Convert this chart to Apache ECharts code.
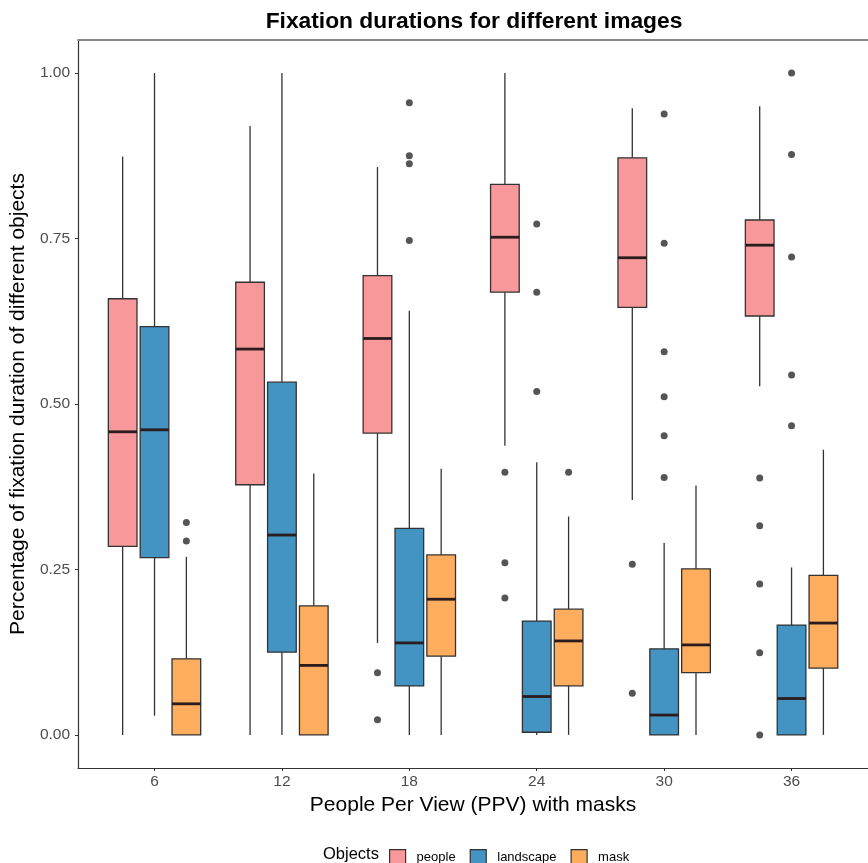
<!DOCTYPE html>
<html>
<head>
<meta charset="utf-8">
<script src="https://cdn.jsdelivr.net/npm/echarts@6/dist/echarts.min.js"></script>
<style>html,body{margin:0;padding:0;background:#fff;}#c{width:868px;height:863px;}</style>
</head>
<body>
<div id="c"></div>
<script>
const categories = ['6', '12', '18', '24', '30', '36'];
const yTicks = [0, 0.25, 0.5, 0.75, 1.0];
const groups = ['people', 'landscape', 'mask'];

// [lowerWhisker, Q1, median, Q3, upperWhisker] per category
const peopleStats = [
  [0.000, 0.285, 0.458, 0.659, 0.874],
  [0.000, 0.378, 0.583, 0.684, 0.920],
  [0.139, 0.456, 0.599, 0.694, 0.858],
  [0.437, 0.669, 0.752, 0.832, 1.000],
  [0.355, 0.646, 0.721, 0.872, 0.947],
  [0.527, 0.633, 0.740, 0.778, 0.950]
];
const landscapeStats = [
  [0.029, 0.268, 0.461, 0.617, 1.000],
  [0.000, 0.125, 0.302, 0.533, 1.000],
  [0.000, 0.074, 0.139, 0.312, 0.641],
  [0.000, 0.004, 0.058, 0.172, 0.412],
  [0.000, 0.000, 0.030, 0.130, 0.290],
  [0.000, 0.000, 0.055, 0.166, 0.253]
];
const maskStats = [
  [0.000, 0.000, 0.047, 0.115, 0.269],
  [0.000, 0.000, 0.105, 0.195, 0.395],
  [0.000, 0.119, 0.205, 0.272, 0.402],
  [0.000, 0.074, 0.142, 0.190, 0.330],
  [0.000, 0.094, 0.136, 0.251, 0.377],
  [0.000, 0.101, 0.169, 0.241, 0.431]
];

// outliers per category
const peopleOutliers = [
  [], [], [0.094, 0.023], [0.397, 0.260, 0.207], [0.258, 0.063], [0.388, 0.316, 0.228, 0.124, 0.000]
];
const landscapeOutliers = [
  [], [], [0.955, 0.875, 0.863, 0.747], [0.772, 0.669, 0.519],
  [0.938, 0.743, 0.579, 0.511, 0.452, 0.389], [1.000, 0.877, 0.722, 0.544, 0.467]
];
const maskOutliers = [
  [0.321, 0.293], [], [], [0.397], [], []
];

const colors = ['#F8989A', '#4393C3', '#FDAD5D'];
const statsAll = [peopleStats, landscapeStats, maskStats];
const outAll = [peopleOutliers, landscapeOutliers, maskOutliers];

const dodge = 0.25;
const boxW = 0.225;
const lineCol = '#333333';
const FONT = 'Liberation Sans, Arial, sans-serif';

function makeRender(offset, color) {
  return function (params, api) {
    const x = api.value(0) + offset;
    const lo = api.value(1), q1 = api.value(2), med = api.value(3), q3 = api.value(4), hi = api.value(5);
    const pLo = api.coord([x, lo]), pQ1 = api.coord([x, q1]), pMed = api.coord([x, med]);
    const pQ3 = api.coord([x, q3]), pHi = api.coord([x, hi]);
    const half = api.size([boxW, 0])[0] / 2;
    return {
      type: 'group',
      children: [
        { type: 'line', shape: { x1: pQ3[0], y1: pQ3[1], x2: pHi[0], y2: pHi[1] }, style: { stroke: lineCol, lineWidth: 1.3 } },
        { type: 'line', shape: { x1: pLo[0], y1: pLo[1], x2: pQ1[0], y2: pQ1[1] }, style: { stroke: lineCol, lineWidth: 1.3 } },
        { type: 'rect', shape: { x: pQ3[0] - half, y: pQ3[1], width: half * 2, height: Math.max(pQ1[1] - pQ3[1], 0.5) },
          style: { fill: color, stroke: lineCol, lineWidth: 1.3 } },
        { type: 'line', shape: { x1: pMed[0] - half, y1: pMed[1], x2: pMed[0] + half, y2: pMed[1] }, style: { stroke: '#2b1d1d', lineWidth: 2.8 } }
      ]
    };
  };
}

const series = [];
groups.forEach((g, gi) => {
  const offset = (gi - 1) * dodge;
  series.push({
    name: g,
    type: 'custom',
    renderItem: makeRender(offset, colors[gi]),
    itemStyle: { color: colors[gi] },
    encode: { x: 0, y: [1, 2, 3, 4, 5] },
    data: statsAll[gi].map((s, ci) => [ci + 1].concat(s)),
    z: 2
  });
  const pts = [];
  outAll[gi].forEach((arr, ci) => arr.forEach(v => pts.push([ci + 1 + offset, v])));
  series.push({
    name: g + ' outliers',
    type: 'scatter',
    symbol: 'circle',
    symbolSize: 7,
    itemStyle: { color: '#2b2b2b' },
    data: pts,
    z: 3
  });
});

const chart = echarts.init(document.getElementById('c'), null, { renderer: 'canvas' });
chart.setOption({
  animation: false,
  backgroundColor: '#ffffff',
  textStyle: { fontFamily: FONT },
  title: [
    { text: 'Fixation durations for different images', left: 469, top: 5, textAlign: 'center',
      textStyle: { fontSize: 22.8, fontWeight: 'bold', color: '#000', fontFamily: FONT } },
    { text: 'Objects', left: 318, top: 841,
      textStyle: { fontSize: 16.5, fontWeight: 'normal', color: '#000', fontFamily: FONT } }
  ],
  legend: {
    data: groups.map((g, gi) => ({ name: g, icon: 'rect', itemStyle: { color: colors[gi], borderColor: lineCol, borderWidth: 1.2 } })),
    left: 384, top: 844, itemWidth: 16, itemHeight: 15, itemGap: 14, selectedMode: false,
    textStyle: { fontSize: 13, color: '#000', padding: [0, 0, 0, 6] }
  },
  grid: { left: 77, right: -7, top: 40, bottom: 95, containLabel: false },
  xAxis: [
    {
      type: 'value', min: 0.4, max: 6.6,
      name: 'People Per View (PPV) with masks', nameLocation: 'middle', nameGap: 25,
      nameTextStyle: { fontSize: 21, color: '#000' },
      axisLine: { show: true, onZero: false, lineStyle: { color: '#333', width: 1.2 } },
      axisTick: { show: true, length: 3, customValues: [1, 2, 3, 4, 5, 6], lineStyle: { color: '#333' } },
      axisLabel: { customValues: [1, 2, 3, 4, 5, 6], formatter: v => categories[Math.round(v) - 1], fontSize: 15.5, color: '#4d4d4d', margin: 6 },
      splitLine: { show: false }
    },
    {
      type: 'value', min: 0.4, max: 6.6, position: 'top',
      axisLine: { show: true, onZero: false, lineStyle: { color: '#888', width: 2 } },
      axisTick: { show: false }, axisLabel: { show: false }, splitLine: { show: false }
    }
  ],
  yAxis: {
    type: 'value', min: -0.05, max: 1.05,
    name: 'Percentage of fixation duration of different objects', nameLocation: 'middle', nameGap: 42,
    nameTextStyle: { fontSize: 21, color: '#000' },
    axisLine: { show: true, onZero: false, lineStyle: { color: '#333', width: 1.2 } },
    axisTick: { show: true, length: 3, customValues: yTicks, lineStyle: { color: '#333' } },
    axisLabel: { customValues: yTicks, formatter: v => v.toFixed(2), fontSize: 15.5, color: '#4d4d4d', margin: 8 },
    splitLine: { show: false }
  },
  series: series
});
</script>
</body>
</html>
